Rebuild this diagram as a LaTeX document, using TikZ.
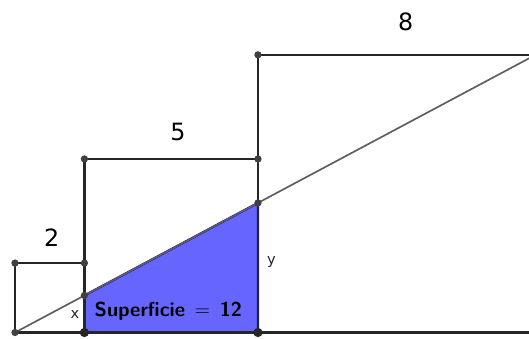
\documentclass[tikz,border=0pt]{standalone}
\usepackage{fontspec}
\newfontfamily\djv{DejaVu Sans}
\definecolor{lineC}{RGB}{38,38,38}
\definecolor{diagC}{RGB}{95,95,95}
\definecolor{polyFill}{RGB}{102,102,255}
\definecolor{polyDraw}{RGB}{0,0,180}
\definecolor{ptC}{RGB}{64,64,64}
\tikzset{
  sqline/.style={draw=lineC, line width=2pt},
  diagline/.style={draw=diagC, line width=1.4pt},
  trap/.style={fill=polyFill, draw=polyDraw, line width=1.8pt, line join=round},
  pt/.style={fill=ptC},
  bigpt/.style={fill=lineC},
  numlab/.style={font=\djv\fontsize{19.5}{19.5}\selectfont, anchor=base, inner sep=0pt},
  varlab/.style={font=\djv\fontsize{12}{12}\selectfont, anchor=base, inner sep=0pt, text=lineC},
  arealab/.style={font=\sffamily\bfseries\fontsize{16.5}{16.5}\selectfont, anchor=base, inner sep=0pt}
}
\begin{document}
\begin{tikzpicture}
\useasboundingbox (-0.432,-0.159) rectangle (14.81,9.58);
\clip (-0.432,-0.159) rectangle (14.81,9.58);
\coordinate (O) at (0,0);
\coordinate (A) at (0,2);
\coordinate (B) at (2,2);
\coordinate (C) at (2,0);
\coordinate (D) at (2,5);
\coordinate (E) at (7,5);
\coordinate (F) at (7,0);
\coordinate (G) at (7,8);
\coordinate (H) at (15,8);
\coordinate (K) at (15,0);
\coordinate (P) at (2,16/15);
\coordinate (Q) at (7,56/15);
% trapezoid
\path[trap] (C) -- (P) -- (Q) -- (F) -- cycle;
% squares
\path[sqline] (O) -- (K);
\path[sqline] (O) -- (A) -- (B);
\path[sqline] (C) -- (D) -- (E) -- (F);
\path[sqline] (F) -- (G) -- (H) -- (K);
% diagonal
\path[diagline] (O) -- (H);
% points
\foreach \p in {O,A,B,D,E,G,P,Q} \fill[pt] (\p) circle (3pt);
\foreach \p in {C,F} \fill[bigpt] (\p) circle (3.8pt);
% labels
\node[numlab] (l2) at (1.058,2.47) {2};
\node[numlab] (l5) at (4.697,5.53) {5};
\node[numlab] (l8) at (11.26,8.70) {8};
\node[varlab] (lx) at (1.73,0.39) {x};
\node[varlab] (ly) at (7.39,1.97) {y};
\node[arealab] (area) at (4.42,0.475) {Superficie\hspace{2pt} $=$\hspace{2pt} 12};
\end{tikzpicture}
\end{document}
